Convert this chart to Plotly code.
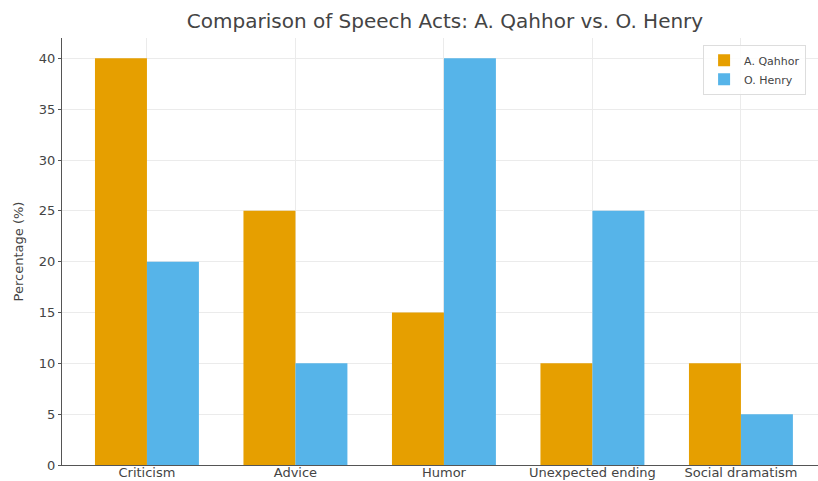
import plotly.graph_objects as go

categories = ["Criticism", "Advice", "Humor", "Unexpected ending", "Social dramatism"]
qahhor = [40, 25, 15, 10, 10]
henry = [20, 10, 40, 25, 5]
y_ticks = [0, 5, 10, 15, 20, 25, 30, 35, 40]

fig = go.Figure()
fig.add_trace(go.Bar(x=categories, y=qahhor, name="A. Qahhor", marker=dict(color="#E69F00", line=dict(width=0))))
fig.add_trace(go.Bar(x=categories, y=henry, name="O. Henry", marker=dict(color="#56B4E9", line=dict(width=0))))

fig.update_layout(
    width=818, height=481,
    margin=dict(l=62, r=0, t=38, b=16),
    paper_bgcolor="white", plot_bgcolor="white",
    barmode="group", bargap=0.3, bargroupgap=0,
    font=dict(family="DejaVu Sans", color="#444444"),
    title=dict(text="Comparison of Speech Acts: A. Qahhor vs. O. Henry",
               x=445/818, xanchor="center", y=1 - 21/481, yanchor="middle",
               font=dict(size=20, color="#444444")),
    legend=dict(x=0.848, y=0.984, xanchor="left", yanchor="top",
                bordercolor="#dddddd", borderwidth=1, bgcolor="rgba(255,255,255,0.85)",
                font=dict(size=11, color="#444444"), tracegroupgap=0, itemwidth=30),
    xaxis=dict(type="category", range=[-0.572, 4.519], showgrid=True, gridcolor="#ebebeb",
               showline=True, linecolor="#555555", linewidth=1, ticks="", ticklen=0, tickangle=0,
               ticklabelstandoff=-5,
               tickfont=dict(size=13, color="#444444"), automargin=False),
    yaxis=dict(range=[0, 42], tickvals=y_ticks, showgrid=True, gridcolor="#ebebeb",
               showline=True, linecolor="#555555", linewidth=1, ticks="outside", ticklen=3,
               tickcolor="#555555", tickfont=dict(size=13, color="#444444"), zeroline=False,
               title=dict(text="Percentage (%)", font=dict(size=13, color="#444444"), standoff=12),
               automargin=False),
)

fig.write_html("out.html")
